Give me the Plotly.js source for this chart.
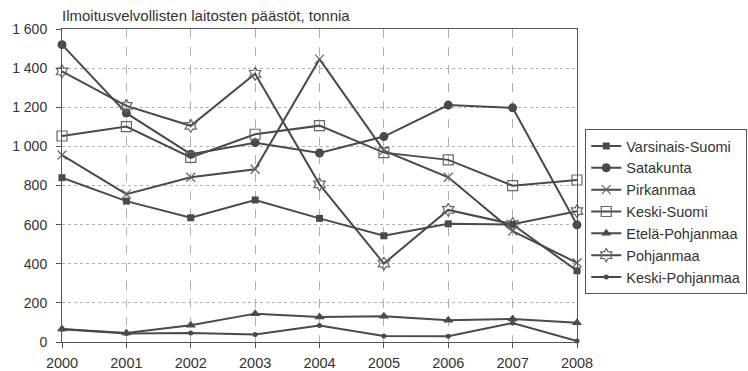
<!DOCTYPE html>
<html>
<head>
<meta charset="utf-8">
<script src="https://cdn.plot.ly/plotly-3.0.1.min.js"></script>
<style>html,body{margin:0;padding:0;background:#fff;}#chart{width:748px;height:371px;}</style>
</head>
<body>
<div id="chart"></div>
<script>
const years = [2000, 2001, 2002, 2003, 2004, 2005, 2006, 2007, 2008];
const varsinaisSuomi = [840, 720, 635, 726, 632, 543, 604, 601, 364];
const satakunta = [1520, 1170, 960, 1019, 966, 1050, 1211, 1197, 599];
const pirkanmaa = [956, 756, 842, 883, 1446, 978, 842, 567, 405];
const keskiSuomi = [1053, 1101, 944, 1062, 1106, 968, 931, 799, 828];
const etelaPohjanmaa = [67, 46, 86, 145, 128, 132, 111, 118, 99];
const pohjanmaa = [1383, 1207, 1105, 1371, 806, 401, 675, 602, 669];
const keskiPohjanmaa = [65, 43, 46, 38, 84, 31, 29, 97, 5];
const seriesNames = ["Varsinais-Suomi", "Satakunta", "Pirkanmaa", "Keski-Suomi", "Etelä-Pohjanmaa", "Pohjanmaa", "Keski-Pohjanmaa"];
const yTickVals = [0, 200, 400, 600, 800, 1000, 1200, 1400, 1600];
const yTickText = ["0", "200", "400", "600", "800", "1 000", "1 200", "1 400", "1 600"];
const titleText = "Ilmoitusvelvollisten laitosten päästöt, tonnia";

const lineColor = "#4a4a4a";
const styles = [
  {symbol: "square", size: 7, open: false},
  {symbol: "circle", size: 9, open: false},
  {symbol: "x-thin-open", size: 9, open: true},
  {symbol: "square-open", size: 10, open: true},
  {symbol: "triangle-up", size: 9, open: false},
  {symbol: "hexagram-open", size: 10, open: true},
  {symbol: "circle", size: 5, open: false}
];
const allSeries = [varsinaisSuomi, satakunta, pirkanmaa, keskiSuomi, etelaPohjanmaa, pohjanmaa, keskiPohjanmaa];

const traces = allSeries.map((vals, i) => ({
  type: "scatter",
  mode: "lines+markers",
  name: seriesNames[i],
  x: years,
  y: vals,
  line: {color: lineColor, width: 2},
  marker: {
    symbol: styles[i].symbol,
    size: styles[i].size,
    color: styles[i].open ? "#666" : lineColor,
    line: {color: styles[i].open ? "#666" : lineColor, width: styles[i].open ? 1.2 : 0}
  },
  cliponaxis: false
}));

const font = {family: "Liberation Sans, Arial, sans-serif", size: 14, color: "#333"};

const layout = {
  width: 748,
  height: 371,
  margin: {l: 62, r: 171, t: 29, b: 29, pad: 0},
  paper_bgcolor: "#fff",
  plot_bgcolor: "#fff",
  font: font,
  showlegend: true,
  title: {
    text: titleText,
    font: {family: font.family, size: 15, color: "#333"},
    xref: "paper", x: 0, xanchor: "left",
    yref: "container", y: 1 - 16/371, yanchor: "middle"
  },
  xaxis: {
    range: [2000, 2008],
    tickvals: years,
    ticktext: years.map(String),
    ticks: "outside", ticklen: 5, tickcolor: "#555",
    ticklabelstandoff: 3,
    showline: true, linecolor: "#555", linewidth: 1, mirror: true,
    showgrid: true, gridcolor: "#b0b0b0", griddash: "dash", gridwidth: 1,
    zeroline: false,
    tickfont: {family: font.family, size: 14.5, color: "#333"},
    fixedrange: true
  },
  yaxis: {
    range: [0, 1600],
    tickvals: yTickVals,
    ticktext: yTickText,
    ticks: "outside", ticklen: 5, tickcolor: "#555",
    ticklabelstandoff: 6,
    showline: true, linecolor: "#555", linewidth: 1, mirror: true,
    showgrid: true, gridcolor: "#b0b0b0", griddash: "dot", gridwidth: 1,
    zeroline: false,
    tickfont: {family: font.family, size: 14, color: "#333"},
    fixedrange: true
  },
  legend: {
    xref: "container", x: 0.999, xanchor: "right",
    yref: "container", y: 1 - 129/371, yanchor: "top",
    bordercolor: "#555", borderwidth: 1,
    bgcolor: "#fff",
    font: {family: font.family, size: 14.5, color: "#333"},
    itemwidth: 30,
    tracegroupgap: 0
  }
};

Plotly.newPlot("chart", traces, layout, {displayModeBar: false, staticPlot: true});
</script>
</body>
</html>
